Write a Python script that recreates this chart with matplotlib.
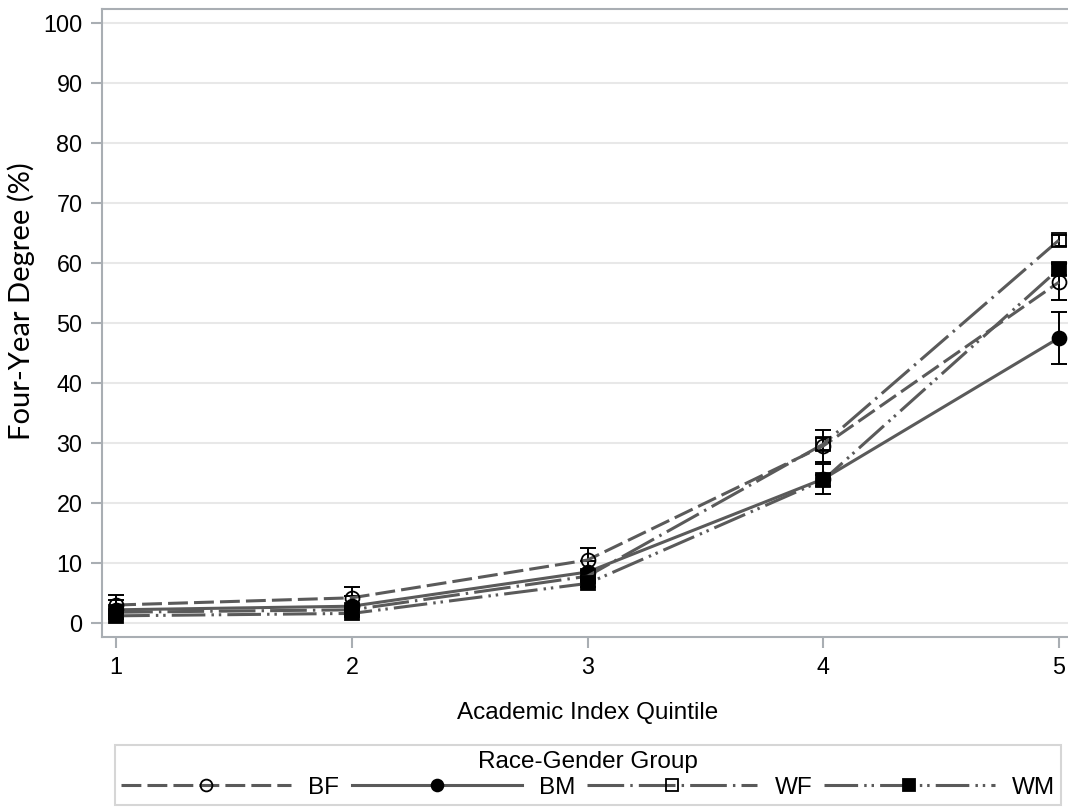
import matplotlib
matplotlib.use('Agg')
import matplotlib.pyplot as plt

plt.rcParams['font.family'] = ['Liberation Sans', 'DejaVu Sans']

# quintiles and group means (%) with error bar half-widths
quintile = [1, 2, 3, 4, 5]
groups = ['BF', 'BM', 'WF', 'WM']

bf = [3.0, 4.2, 10.5, 29.5, 56.8]
bm = [2.2, 2.8, 8.5, 24.0, 47.5]
wf = [1.8, 2.2, 7.8, 29.8, 63.8]
wm = [1.2, 1.6, 6.6, 23.8, 59.0]

bf_err = [1.7, 1.8, 2.0, 2.6, 3.0]
bm_err = [1.6, 1.7, 1.9, 2.5, 4.3]
wf_err = [0.4, 0.4, 0.8, 1.0, 0.9]
wm_err = [0.3, 0.3, 0.6, 0.9, 1.0]

yticks = [0, 10, 20, 30, 40, 50, 60, 70, 80, 90, 100]

line_col = '#5a5a5a'
axis_col = '#a9aeb3'

styles = {
    'BF': dict(ls=(0, (6.5, 2.0)), marker='o', mfc='none'),
    'BM': dict(ls='-', marker='o', mfc='black'),
    'WF': dict(ls=(0, (12, 2.0, 0.8, 2.0)), marker='s', mfc='none'),
    'WM': dict(ls=(0, (11, 2.0, 0.8, 1.6, 0.8, 2.0)), marker='s', mfc='black'),
}

fig = plt.figure(figsize=(10.68, 8.09), dpi=100)
ax = fig.add_axes([102/1068, 172/809, 971/1068, 628/809])

series = [bf, bm, wf, wm]
errs = [bf_err, bm_err, wf_err, wm_err]
handles = []
for name, vals, er in zip(groups, series, errs):
    st = styles[name]
    ax.errorbar(quintile, vals, yerr=er, fmt='none', ecolor='black',
                elinewidth=1.4, capsize=6, capthick=1.4, zorder=3)
    h, = ax.plot(quintile, vals, color=line_col, lw=2.2, linestyle=st['ls'],
                 marker=st['marker'], markersize=10, mfc=st['mfc'],
                 mec='black', mew=1.3, label=name, zorder=4)
    handles.append(h)

ax.set_xlim(0.94, 5.06)
ax.set_ylim(-2.33, 102.33)
ax.set_xticks(quintile)
ax.set_yticks(yticks)
ax.yaxis.grid(True, color='#e8e8e8', lw=1.5)
ax.set_axisbelow(True)
ax.tick_params(direction='out', length=8, width=1.5, color=axis_col,
               labelsize=16.8, pad=6)
for sp in ax.spines.values():
    sp.set_color(axis_col)
    sp.set_linewidth(1.5)

ax.set_xlabel('Academic Index Quintile', fontsize=17.5, labelpad=16)
ax.set_ylabel('Four-Year Degree (%)', fontsize=21,
              family=['Lato', 'DejaVu Sans'], va='center')
ax.yaxis.set_label_coords(-0.083, 0.535)

leg = fig.legend(handles=handles, labels=groups, ncol=4, title='Race-Gender Group',
                 loc='center', bbox_to_anchor=(588/1068, 1 - 775/809),
                 fontsize=17.5, title_fontsize=17.5, handlelength=7.0,
                 handletextpad=0.7, columnspacing=0.5, numpoints=1,
                 markerscale=0.85, fancybox=False, borderpad=0.25,
                 labelspacing=0.15)
leg.get_frame().set_edgecolor('#cccccc')
leg.get_frame().set_linewidth(1.5)

fig.savefig('out.png', dpi=100)
